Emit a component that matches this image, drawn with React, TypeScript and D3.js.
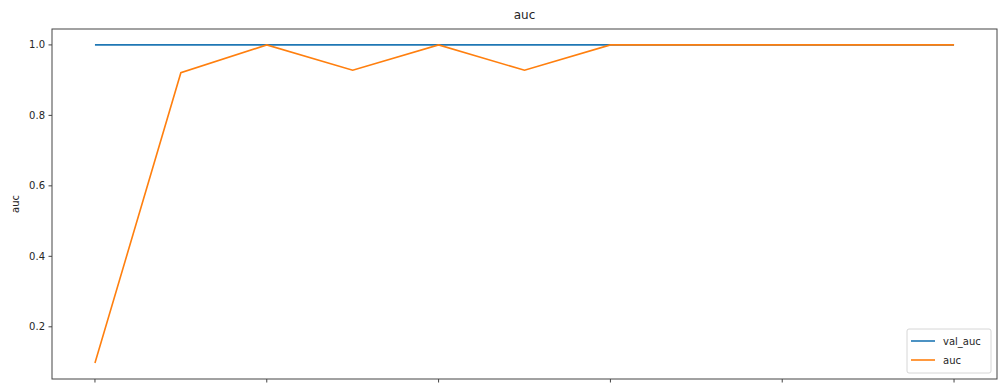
import React from "react";
import * as d3 from "d3";

const epochs = [0, 1, 2, 3, 4, 5, 6, 7, 8, 9, 10];
const valAuc = [1.0, 1.0, 1.0, 1.0, 1.0, 1.0, 1.0, 1.0, 1.0, 1.0, 1.0];
const auc = [0.097, 0.921, 1.0, 0.928, 1.0, 0.928, 1.0, 1.0, 1.0, 1.0, 1.0];
const xTicks = [0, 2, 4, 6, 8, 10];
const yTicks = [0.2, 0.4, 0.6, 0.8, 1.0];
const seriesNames = ["val_auc", "auc"];
const colors = ["#1f77b4", "#ff7f0e"];

const W = 1002;
const H = 383;
const left = 52;
const right = 997;
const top = 29;
const bottom = 379;

export default function App() {
  const x = d3.scaleLinear().domain([-0.5, 10.5]).range([left, right]);
  const y = d3.scaleLinear().domain([0.05185, 1.04515]).range([bottom, top]);
  const line = d3
    .line<number>()
    .x((_, i) => x(epochs[i]))
    .y((d) => y(d));
  const font = "DejaVu Sans, sans-serif";
  const lx = 907;
  const ly = 329;
  return (
    <svg
      width={W}
      height={H}
      style={{ position: "absolute", left: 0, top: 0, background: "#fff" }}
      fontFamily={font}
    >
      <rect x={0} y={0} width={W} height={H} fill="#fff" />
      <path d={line(valAuc) || ""} fill="none" stroke={colors[0]} strokeWidth={1.6} />
      <path d={line(auc) || ""} fill="none" stroke={colors[1]} strokeWidth={1.6} />
      <rect
        x={left}
        y={top}
        width={right - left}
        height={bottom - top}
        fill="none"
        stroke="#444"
        strokeWidth={1}
      />
      {yTicks.map((t) => (
        <g key={t}>
          <line x1={left - 3.5} x2={left} y1={y(t)} y2={y(t)} stroke="#444" strokeWidth={1} />
          <text x={left - 7} y={y(t)} dy="0.35em" textAnchor="end" fontSize={10} fill="#262626">
            {t.toFixed(1)}
          </text>
        </g>
      ))}
      {xTicks.map((t) => (
        <line key={t} x1={x(t)} x2={x(t)} y1={bottom} y2={bottom + 3.5} stroke="#444" strokeWidth={1} />
      ))}
      <text x={(left + right) / 2} y={19} textAnchor="middle" fontSize={12} fill="#262626">
        auc
      </text>
      <text
        transform={`translate(19, ${(top + bottom) / 2}) rotate(-90)`}
        textAnchor="middle"
        fontSize={10}
        fill="#262626"
      >
        auc
      </text>
      <rect x={lx} y={ly} width={84} height={44} rx={2} fill="#fff" fillOpacity={0.8} stroke="#ccc" strokeWidth={0.8} />
      {seriesNames.map((n, i) => (
        <g key={n}>
          <line
            x1={lx + 4}
            x2={lx + 28}
            y1={ly + 12 + i * 19}
            y2={ly + 12 + i * 19}
            stroke={colors[i]}
            strokeWidth={1.6}
          />
          <text x={lx + 36} y={ly + 12 + i * 19} dy="0.35em" fontSize={10} fill="#262626">
            {n}
          </text>
        </g>
      ))}
    </svg>
  );
}
